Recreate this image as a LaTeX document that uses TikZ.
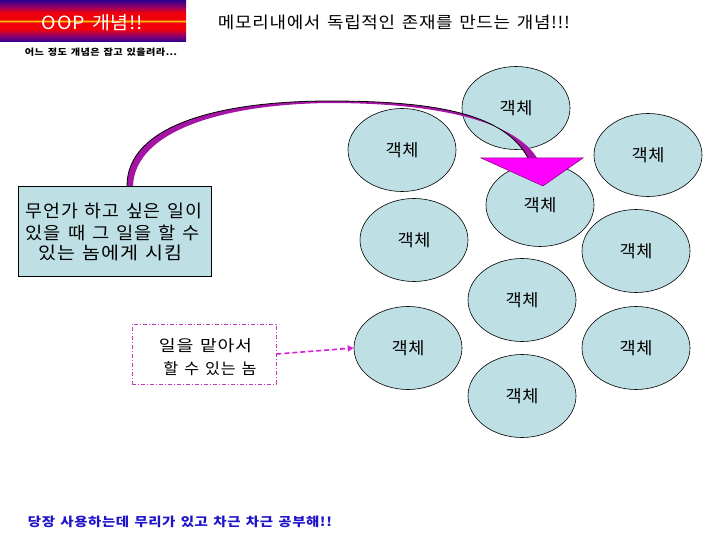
\documentclass[tikz,border=0pt]{standalone}
\usepackage{fontspec}
\setmainfont{Noto Sans CJK KR}[LetterSpace=4, WordSpace=1.4]
\usetikzlibrary{shapes.geometric,arrows.meta}
\definecolor{objblue}{RGB}{190,224,228}
\definecolor{shaftpurple}{RGB}{165,20,165}
\definecolor{headmag}{RGB}{255,0,255}
\definecolor{headedge}{RGB}{120,0,120}
\definecolor{dashmag}{RGB}{220,30,220}
\definecolor{boxdash}{RGB}{190,60,190}
\definecolor{deepviolet}{RGB}{50,0,140}
\definecolor{midviolet}{RGB}{140,0,110}
\definecolor{titlered}{RGB}{240,0,10}
\definecolor{titleorange}{RGB}{255,190,0}
\definecolor{bottomblue}{RGB}{30,20,200}
\pgfdeclareverticalshading{oopshade}{100bp}{color(0bp)=(deepviolet); color(25bp)=(deepviolet); color(32bp)=(midviolet); color(40bp)=(titlered); color(48bp)=(titlered); color(50bp)=(titleorange); color(52bp)=(titlered); color(60bp)=(titlered); color(68bp)=(midviolet); color(75bp)=(deepviolet); color(100bp)=(deepviolet)}
\newcommand{\fitt}[3]{\resizebox{#1}{#2}{#3}}
\begin{document}
\begin{tikzpicture}[x=1pt,y=-1pt,
  obj/.style={ellipse, draw=black, line width=0.6pt, fill=objblue, minimum width=108pt, minimum height=83pt, inner sep=0pt},
  lbl/.style={inner sep=0pt, outer sep=0pt},
  bluebox/.style={draw=black, line width=0.7pt, fill=objblue, inner sep=0pt},
  dashbox/.style={draw=boxdash, line width=0.7pt, dash pattern=on 4pt off 2pt on 1pt off 2pt, inner sep=0pt},
  lazyarrow/.style={dashmag, line width=1.6pt, dash pattern=on 5pt off 3pt, -{Triangle[length=6pt,width=6pt]}}]
\useasboundingbox (0,0) rectangle (720,540);
\fill[white] (0,0) rectangle (720,540);

% title
\node[shading=oopshade, minimum width=186pt, minimum height=41pt, inner sep=0pt] (tbox) at (93,21) {};
\node[lbl, text=white] (ttl) at (92.5,23) {\fitt{101pt}{15pt}{OOP 개념!!}};
\node[lbl] (head) at (394,22) {\fitt{352pt}{13.5pt}{메모리내에서 독립적인 존재를 만드는 개념!!!}};
\node[lbl] (note) at (101,52) {\fitt{152pt}{7.5pt}{\bfseries 어느 정도 개념은 잡고 있을려라…}};

% objects
\node[obj] (o1) at (516,108) {\fitt{33pt}{14pt}{객체}};
\node[obj] (o2) at (402,150) {\fitt{33pt}{14pt}{객체}};
\node[obj] (o3) at (648,155) {\fitt{33pt}{14pt}{객체}};
\node[obj] (o4) at (540,205) {\fitt{33pt}{14pt}{객체}};
\node[obj] (o5) at (414,240) {\fitt{33pt}{14pt}{객체}};
\node[obj] (o6) at (636,251) {\fitt{33pt}{14pt}{객체}};
\node[obj] (o7) at (522,300) {\fitt{33pt}{14pt}{객체}};
\node[obj] (o8) at (408,348) {\fitt{33pt}{14pt}{객체}};
\node[obj] (o9) at (636,348) {\fitt{33pt}{14pt}{객체}};
\node[obj] (o10) at (522,396) {\fitt{33pt}{14pt}{객체}};

% box 1
\node[bluebox, minimum width=193pt, minimum height=90pt] (b1) at (114.5,231) {};
\node[lbl] (b1a) at (114,211) {\fitt{176pt}{14.5pt}{무언가 하고 싶은 일이}};
\node[lbl] (b1b) at (113,233) {\fitt{174pt}{14.5pt}{있을 때 그 일을 할 수}};
\node[lbl] (b1c) at (110.5,253) {\fitt{143pt}{14.5pt}{있는 놈에게 시킴}};

% box 2
\node[dashbox, minimum width=144pt, minimum height=60pt] (b2) at (204,354) {};
\node[lbl] (b2a) at (205.5,346) {\fitt{93pt}{13pt}{일을 맡아서}};
\node[lbl] (b2b) at (210,369) {\fitt{93pt}{13pt}{할 수 있는 놈}};

% curved arrow
\fill[shaftpurple] (127,186) .. controls (127,125) and (220,101) .. (330,101)
   .. controls (440,101) and (505,115) .. (528,158)
   -- (537,158) .. controls (515,122) and (440,103) .. (330,103)
   .. controls (225,104) and (135,130) .. (133,186) -- cycle;
\draw[black, line width=0.8pt] (127,186) .. controls (127,125) and (220,101) .. (330,101)
   .. controls (440,101) and (505,115) .. (528,158);
\filldraw[fill=headmag, draw=headedge, line width=0.5pt] (481,158) -- (583,158) -- (543,186) -- cycle;

% dashed arrow
\draw[lazyarrow] (b2.east) -- (o8.west);

% bottom text
\node[lbl, text=bottomblue] (foot) at (180,522) {\fitt{304pt}{10.5pt}{\bfseries 당장 사용하는데 무리가 있고 차근 차근 공부해!!}};
\end{tikzpicture}
\end{document}
